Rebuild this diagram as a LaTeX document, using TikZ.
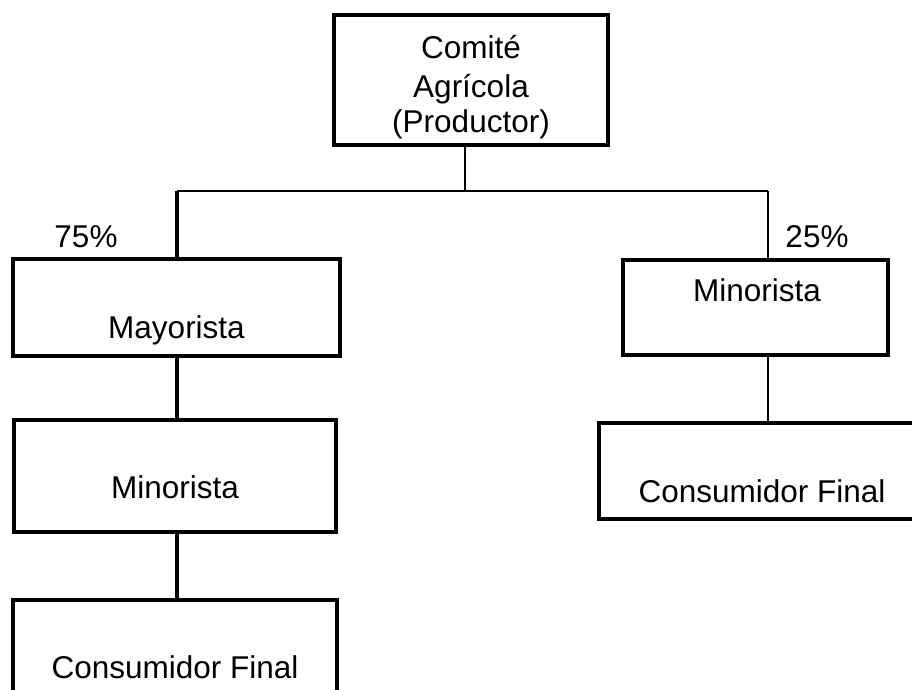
\documentclass[tikz,border=0pt]{standalone}
\usepackage{fontspec}
\setmainfont{Liberation Sans}
\begin{document}
\begin{tikzpicture}[x=1pt,y=-1pt,
  box/.style={draw, line width=3.5pt, inner sep=0pt, outer sep=0pt},
  txt/.style={inner sep=0pt, anchor=base, font=\fontsize{31.5}{37}\selectfont},
  thin link/.style={line width=1.6pt},
  thick link/.style={line width=3.4pt}]
  \useasboundingbox (0,0) rectangle (912,689);
  \clip (0,0) rectangle (912,689);

  % boxes
  \node[box, line width=4pt, minimum width=274pt, minimum height=130pt] (top) at (471,80) {};
  \node[box, minimum width=327pt, minimum height=97pt] (may) at (176.5,307.5) {};
  \node[box, minimum width=322pt, minimum height=112pt] (minL) at (175,476) {};
  \node[box, minimum width=324pt, minimum height=140pt] (conL) at (175,670) {};
  \node[box, minimum width=265pt, minimum height=95pt] (minR) at (755.5,307.5) {};
  \node[box, minimum width=341pt, minimum height=96pt] (conR) at (769.5,471) {};

  % texts
  \node[txt] (t1) at (471,58) {Comité};
  \node[txt] (t2) at (471,97) {Agrícola};
  \node[txt] (t3) at (471,132) {(Productor)};
  \node[txt] (tmay) at (176.5,338) {Mayorista};
  \node[txt] (tminL) at (175,498) {Minorista};
  \node[txt] (tconL) at (175,678) {Consumidor Final};
  \node[txt] (tminR) at (757,301) {Minorista};
  \node[txt] (tconR) at (762,502) {Consumidor Final};
  \node[txt] (p75) at (86,247) {75\%};
  \node[txt] (p25) at (817,247) {25\%};

  % branching lines
  \coordinate (hub) at (465,191);
  \coordinate (busL) at (177,191);
  \coordinate (busR) at (768,191);
  \draw[thin link] (top.south -| hub) -- (hub);
  \draw[line width=2pt] (busL) -- (busR);
  \draw[thick link] (busL) -- (may.north -| busL);
  \draw[thin link] (busR) -- (minR.north -| busR);
  \draw[thick link] (may.south -| busL) -- (minL.north -| busL);
  \draw[thick link] (minL.south -| busL) -- (conL.north -| busL);
  \draw[thin link] (minR.south -| busR) -- (conR.north -| busR);
\end{tikzpicture}
\end{document}
